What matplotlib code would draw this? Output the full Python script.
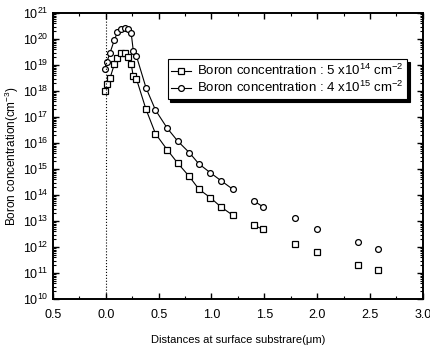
import matplotlib
matplotlib.use('Agg')
import matplotlib.pyplot as plt
from matplotlib.ticker import LogLocator, MultipleLocator, FixedFormatter, FixedLocator, NullFormatter

plt.rcParams['font.family'] = ['Liberation Sans', 'DejaVu Sans']
plt.rcParams['mathtext.fontset'] = 'custom'
plt.rcParams['mathtext.rm'] = 'Liberation Sans'
plt.rcParams['mathtext.it'] = 'Liberation Sans:italic'

# depth (um), shared by both profiles
depth = [-0.01, 0.01, 0.04, 0.08, 0.11, 0.14, 0.18, 0.21, 0.24, 0.26, 0.29,
         0.38, 0.47, 0.58, 0.68, 0.79, 0.88, 0.99, 1.09, 1.2,
         1.4, 1.49, 1.79, 2.0, 2.39, 2.58]

# 5x10^14 cm^-2 dose (squares)
conc_low = [9.8e17, 1.8e18, 3.2e18, 1.07e19, 1.86e19, 2.9e19, 2.9e19, 2.0e19,
            1.07e19, 3.7e18, 2.9e18, 2.0e17, 2.3e16, 5.6e15, 1.7e15, 5.2e14,
            1.7e14, 7.9e13, 3.5e13, 1.7e13, 6.9e12, 4.8e12, 1.35e12, 6.3e11,
            2.1e11, 1.35e11]

# 4x10^15 cm^-2 dose (circles)
conc_high = [7.4e18, 1.35e19, 3.0e19, 9.1e19, 1.86e20, 2.5e20, 2.75e20, 2.5e20,
             1.7e20, 3.5e19, 2.2e19, 1.35e18, 1.86e17, 3.8e16, 1.2e16, 4.3e15,
             1.6e15, 7.2e14, 3.6e14, 1.7e14, 6.0e13, 3.5e13, 1.3e13, 5.0e12,
             1.6e12, 8.5e11]

x_ticks = [-0.5, 0.0, 0.5, 1.0, 1.5, 2.0, 2.5, 3.0]
x_labels = ['0.5', '0.0', '0.5', '1.0', '1.5', '2.0', '2.5', '3.0']

fig = plt.figure(figsize=(4.31, 3.45), dpi=100)
ax = fig.add_axes([0.123, 0.133, 0.858, 0.829])

mk = dict(color='black', lw=0.8, markerfacecolor='white', markeredgecolor='black',
          markersize=4.2, markeredgewidth=0.9)

# connected part, short pair, then loose points
segs = [(0, 20, '-'), (20, 22, '-'), (22, 26, 'none')]
for a, b, ls in segs:
    l1, = ax.plot(depth[a:b], conc_low[a:b], marker='s', linestyle=ls, **mk)
    l2, = ax.plot(depth[a:b], conc_high[a:b], marker='o', linestyle=ls, **mk)
    if a == 0:
        h_low, h_high = l1, l2

ax.axvline(0.0, color='black', lw=0.8, linestyle=':')

ax.set_yscale('log')
ax.set_xlim(-0.5, 3.0)
ax.set_ylim(1e10, 1e21)

ax.xaxis.set_major_locator(FixedLocator(x_ticks))
ax.xaxis.set_major_formatter(FixedFormatter(x_labels))
ax.xaxis.set_minor_locator(MultipleLocator(0.25))
ax.yaxis.set_major_locator(LogLocator(base=10, numticks=20))
ax.yaxis.set_minor_locator(LogLocator(base=10, subs=range(2, 10), numticks=20))
ax.yaxis.set_minor_formatter(NullFormatter())

ax.tick_params(which='both', direction='in', top=True, right=True, labelsize=9)
ax.tick_params(axis='x', pad=7)
ax.tick_params(which='major', length=4, width=1)
ax.tick_params(which='minor', length=2, width=0.8)
for s in ax.spines.values():
    s.set_linewidth(1.4)

ax.set_xlabel('Distances at surface substrare(μm)', fontsize=8, labelpad=10)
ax.set_ylabel('Boron concentration(cm$^{-3}$)', fontsize=8.5, labelpad=1)

leg = ax.legend([h_low, h_high],
                ['Boron concentration : 5 x10$^{14}$ cm$^{-2}$',
                 'Boron concentration : 4 x10$^{15}$ cm$^{-2}$'],
                loc='upper right', bbox_to_anchor=(0.957, 0.839), borderaxespad=0,
                fontsize=9.5, frameon=True, fancybox=False,
                shadow={'color': 'black', 'alpha': 1}, borderpad=0.3,
                handlelength=1.5, handletextpad=0.4, labelspacing=0.15)
leg.get_frame().set_edgecolor('black')
leg.get_frame().set_linewidth(0.8)

fig.savefig('out.png', dpi=100)
